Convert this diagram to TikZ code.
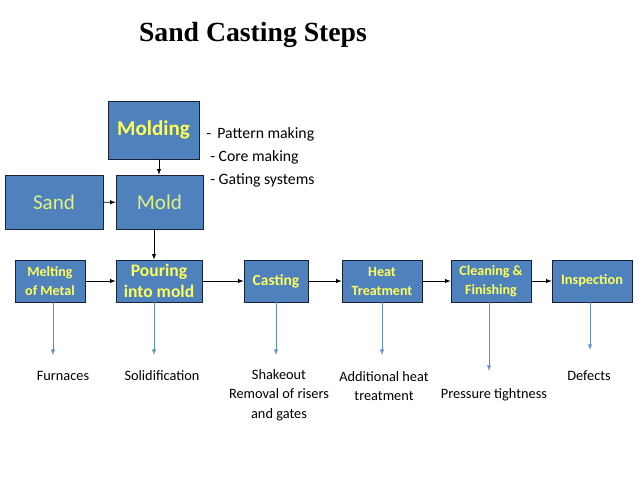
\documentclass[tikz,border=0pt]{standalone}
\usepackage{fontspec}
\setmainfont{Carlito}
\newfontfamily\titlefont{Liberation Serif}
\usepackage{tikz}

\definecolor{boxblue}{RGB}{79,129,189}
\definecolor{boxline}{RGB}{25,35,55}
\definecolor{boxtext}{RGB}{255,255,90}
\definecolor{paletext}{RGB}{225,240,130}
\definecolor{downblue}{RGB}{100,140,195}

\begin{document}
\begin{tikzpicture}[x=0.025cm,y=-0.025cm,>=latex,
	step box/.style={draw=boxline,fill=boxblue,text=boxtext,font=\bfseries,align=center,inner sep=0pt,minimum height=42*0.025cm},
	big box/.style={draw=boxline,fill=boxblue,align=center,inner sep=0pt,minimum height=54*0.025cm},
	note/.style={font=\fontsize{10.2}{13}\selectfont,align=center,inner sep=0pt}]
			\useasboundingbox[fill=white] (0,0) rectangle (638,479);
			%\draw [help lines] (0,0) grid (638,479);
			\node[font=\titlefont\bfseries\fontsize{19.7}{22}\selectfont] (title) at (253,35) {Sand Casting Steps};
			% top part
			\node[big box,minimum width=91*0.025cm,minimum height=58*0.025cm,text=boxtext,font=\bfseries\fontsize{15}{17}\selectfont] (molding) at (153.5,130) {Molding};
			\node[big box,minimum width=98*0.025cm,text=paletext,font=\fontsize{15}{17}\selectfont] (sand) at (54,202.5) {Sand};
			\node[big box,minimum width=87*0.025cm,text=paletext,font=\fontsize{15}{17}\selectfont] (mold) at (159.5,202) {Mold};
			\node[note,anchor=west,font=\fontsize{11.2}{13}\selectfont] (pattern) at (206,134) {-\hspace{0.4em}Pattern making};
			\node[note,anchor=west,font=\fontsize{11.2}{13}\selectfont] (core) at (210,157) {- Core making};
			\node[note,anchor=west,font=\fontsize{11.2}{13}\selectfont] (gating) at (210,180) {- Gating systems};
			% row of steps
			\node[step box,minimum width=70*0.025cm,font=\bfseries\fontsize{10}{13.5}\selectfont] (melting) at (50,281) {Melting\\of Metal};
			\node[step box,minimum width=86*0.025cm,font=\bfseries\fontsize{12.5}{15}\selectfont] (pouring) at (159,281) {Pouring\\into mold};
			\node[step box,minimum width=64*0.025cm,font=\bfseries\fontsize{11}{13}\selectfont] (casting) at (276,281) {Casting};
			\node[step box,minimum width=80*0.025cm,font=\bfseries\fontsize{10}{13.5}\selectfont] (heat) at (382,281) {Heat\\Treatment};
			\node[step box,minimum width=80*0.025cm,font=\bfseries\fontsize{10}{13.5}\selectfont] (cleaning) at (491,281) {Cleaning \&\\Finishing};
			\node[step box,minimum width=80*0.025cm,font=\bfseries\fontsize{10.2}{12}\selectfont] (inspection) at (592,281) {Inspection};
			% results
			\node[note] (furnaces) at (63,376) {Furnaces};
			\node[note] (solid) at (162,376) {Solidification};
			\node[note] (shakeout) at (279,395) {Shakeout\\[1pt]Removal of risers\\[1pt]and gates};
			\node[note] (additional) at (384,386) {Additional heat\\[1pt]treatment};
			\node[note] (pressure) at (494,395) {Pressure tightness};
			\node[note] (defects) at (589,376) {Defects};
			\coordinate (c1) at (53,355);
			\coordinate (c2) at (154,355);
			\coordinate (c3) at (276,355);
			\coordinate (c4) at (382,355);
			\coordinate (c5) at (489,371);
			\coordinate (c6) at (590,350);
			% arrows
			\draw[->] (molding.south -| 159,0) -- (mold.north -| 159,0);
			\draw[->] (sand) -- (mold);
			\draw[->] (mold.south -| 154,0) -- (pouring.north -| 154,0);
			\draw[->] (melting) -- (pouring);
			\draw[->] (pouring) -- (casting);
			\draw[->] (casting) -- (heat);
			\draw[->] (heat) -- (cleaning);
			\draw[->] (cleaning) -- (inspection);
			\draw[->,downblue] (melting.south -| c1) -- (c1);
			\draw[->,downblue] (pouring.south -| c2) -- (c2);
			\draw[->,downblue] (casting.south -| c3) -- (c3);
			\draw[->,downblue] (heat.south -| c4) -- (c4);
			\draw[->,downblue] (cleaning.south -| c5) -- (c5);
			\draw[->,downblue] (inspection.south -| c6) -- (c6);
		\end{tikzpicture}
\end{document}
